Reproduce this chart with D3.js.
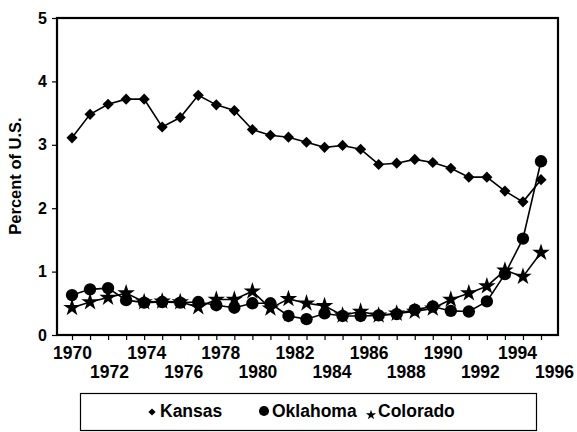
<!DOCTYPE html>
<html>
<head>
<meta charset="utf-8">
<script src="https://cdn.jsdelivr.net/npm/d3@7"></script>
<style>
  body { margin: 0; background: #fff; }
  svg { display: block; font-family: "Liberation Sans", Arial, sans-serif; }
</style>
</head>
<body>
<div id="chart"></div>
<script>
const years = [1970, 1971, 1972, 1973, 1974, 1975, 1976, 1977, 1978, 1979, 1980, 1981, 1982, 1983,
               1984, 1985, 1986, 1987, 1988, 1989, 1990, 1991, 1992, 1993, 1994, 1995, 1996];
const kansas = [3.11, 3.48, 3.64, 3.72, 3.72, 3.28, 3.43, 3.78, 3.63, 3.54, 3.24, 3.15, 3.12, 3.04,
                2.96, 2.99, 2.93, 2.69, 2.71, 2.77, 2.72, 2.63, 2.49, 2.49, 2.27, 2.10, 2.45];
const oklahoma = [0.63, 0.72, 0.74, 0.55, 0.51, 0.52, 0.51, 0.52, 0.47, 0.43, 0.50, 0.50, 0.30, 0.25,
                  0.34, 0.30, 0.30, 0.31, 0.33, 0.40, 0.45, 0.38, 0.37, 0.53, 0.96, 1.52, 2.74];
const colorado = [0.43, 0.52, 0.59, 0.66, 0.52, 0.53, 0.52, 0.44, 0.56, 0.56, 0.69, 0.42, 0.57, 0.50,
                  0.46, 0.31, 0.37, 0.31, 0.34, 0.37, 0.42, 0.56, 0.66, 0.77, 1.02, 0.92, 1.30];
const yTicks = [0, 1, 2, 3, 4, 5];
const xLabelsTop = [1970, 1974, 1978, 1982, 1986, 1990, 1994];
const xLabelsBottom = [1972, 1976, 1980, 1984, 1988, 1992, 1996];

const W = 577, H = 432;
const plotL = 57, plotR = 558, plotT = 18, plotB = 335;

const svg = d3.select("#chart").append("svg")
    .attr("width", W)
    .attr("height", H);

// points sit a bit inside the frame, labels drift slightly wider (as in the print)
const x = d3.scaleLinear().domain([1970, 1996]).range([72, 541]);
const xLab = d3.scaleLinear().domain([1970, 1996]).range([72, 554]);
const y = d3.scaleLinear().domain([0, 5]).range([plotB, plotT]);

// frame
svg.append("rect")
    .attr("x", plotL).attr("y", plotT)
    .attr("width", plotR - plotL).attr("height", plotB - plotT)
    .attr("fill", "none").attr("stroke", "#000").attr("stroke-width", 2.2);

// y axis
const yAxis = svg.append("g")
    .attr("transform", `translate(${plotL},0)`)
    .call(d3.axisLeft(y).tickValues(yTicks).tickFormat(d3.format("d")).tickSize(5).tickPadding(5));
yAxis.select(".domain").remove();
yAxis.selectAll("line").attr("stroke-width", 1.2);
yAxis.selectAll("text")
    .attr("font-size", 16).attr("font-weight", "bold").attr("fill", "#000")
    .attr("font-family", "Liberation Sans, Arial, sans-serif");

// x axis tick marks
const xAxis = svg.append("g")
    .attr("transform", `translate(0,${plotB})`)
    .call(d3.axisBottom(x).tickValues(years).tickFormat("").tickSize(5));
xAxis.select(".domain").remove();
xAxis.selectAll("line").attr("stroke-width", 1.2);

// staggered year labels
function labelRow(vals, dy) {
    const g = svg.append("g")
        .attr("transform", `translate(0,${plotB + dy})`)
        .call(d3.axisBottom(xLab).tickValues(vals).tickFormat(d3.format("d")).tickSize(0).tickPadding(0));
    g.select(".domain").remove();
    g.selectAll("text")
        .attr("font-size", 17.5).attr("font-weight", "bold").attr("fill", "#000")
        .attr("font-family", "Liberation Sans, Arial, sans-serif");
}
labelRow(xLabelsTop, 12);
labelRow(xLabelsBottom, 31);

// y title
svg.append("text")
    .attr("transform", `translate(21,176) rotate(-90)`)
    .attr("text-anchor", "middle")
    .attr("font-size", 16.5).attr("font-weight", "bold")
    .text("Percent of U.S.");

const diamond = d3.symbol().type(d3.symbolSquare);
const circle = d3.symbol().type(d3.symbolCircle);
const star = d3.symbol().type(d3.symbolStar);

const line = d3.line().x((d, i) => x(years[i])).y(d => y(d));

const series = [
    {name: "Colorado", values: colorado, sym: star, size: 95, rot: 0},
    {name: "Oklahoma", values: oklahoma, sym: circle, size: 120, rot: 0},
    {name: "Kansas", values: kansas, sym: diamond, size: 62, rot: 45}
];

series.forEach(s => {
    svg.append("path")
        .datum(s.values)
        .attr("d", line)
        .attr("fill", "none")
        .attr("stroke", "#000")
        .attr("stroke-width", 1.6);
    svg.append("g").selectAll("path")
        .data(s.values)
        .join("path")
        .attr("d", s.sym.size(s.size))
        .attr("transform", (d, i) => `translate(${x(years[i])},${y(d)}) rotate(${s.rot})`)
        .attr("fill", "#000");
});

// legend
svg.append("rect")
    .attr("x", 80.5).attr("y", 393.5)
    .attr("width", 456).attr("height", 37)
    .attr("fill", "none").attr("stroke", "#000").attr("stroke-width", 1.2);

const legendItems = [
    {name: "Kansas", sym: diamond, size: 26, rot: 45, mx: 152, my: 412, tx: 160},
    {name: "Oklahoma", sym: circle, size: 80, rot: 0, mx: 264, my: 411, tx: 272},
    {name: "Colorado", sym: star, size: 32, rot: 0, mx: 371, my: 415, tx: 378}
];
const lg = svg.append("g").selectAll("g").data(legendItems).join("g");
lg.append("path")
    .attr("d", d => d.sym.size(d.size)())
    .attr("transform", d => `translate(${d.mx},${d.my}) rotate(${d.rot})`)
    .attr("fill", "#000");
lg.append("text")
    .attr("x", d => d.tx).attr("y", 417)
    .attr("font-size", 17.5).attr("font-weight", "bold")
    .text(d => d.name);
</script>
</body>
</html>
